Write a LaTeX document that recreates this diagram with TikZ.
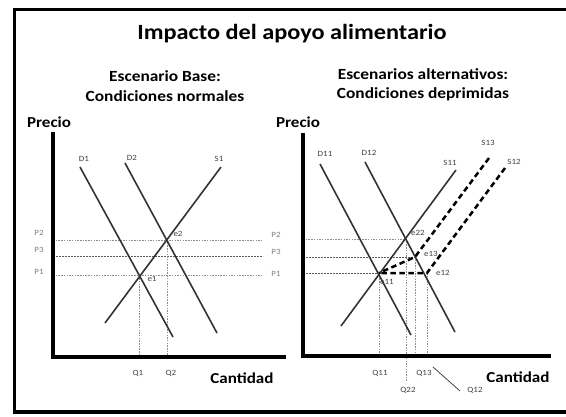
\documentclass[tikz,border=0pt]{standalone}
\usepackage{fontspec}
\setmainfont[FakeStretch=1.12]{Carlito}
\begin{document}
\begin{tikzpicture}[x=1pt,y=-1pt,
  frame/.style={line width=3.5pt,black},
  axis/.style={line width=3.6pt,black},
  curve/.style={line width=1.6pt,black!80},
  shifted/.style={line width=2.5pt,black,dash pattern=on 5.5pt off 3.5pt},
  guide/.style={line width=0.9pt,black!45,dash pattern=on 1.5pt off 1.2pt},
  guidedark/.style={line width=1pt,black!65,dash pattern=on 2pt off 1pt},
  ttl/.style={font=\bfseries\fontsize{21.7}{24}\selectfont},
  sub/.style={font=\bfseries\fontsize{15.5}{19.5}\selectfont,align=center},
  axlab/.style={font=\bfseries\fontsize{15.2}{18}\selectfont},
  lab/.style={font=\fontsize{8}{9}\selectfont,text=black!75,inner sep=0.5pt},
  plab/.style={font=\fontsize{8}{9}\selectfont,text=black!50,inner sep=0.5pt},
]
\useasboundingbox (0,0) rectangle (566,416);
\fill[white] (0,0) rectangle (566,416);
% frame
\coordinate (fTR) at (566,9.5);
\coordinate (fTL) at (14.5,9.5);
\coordinate (fBL) at (14.5,412);
\coordinate (fBR) at (566,412);
\draw[frame] (fTR) -- (fTL) -- (fBL) -- (fBR);

% titles
\node[ttl] (title) at (292,34) {Impacto del apoyo alimentario};
\node[sub] (subL) at (165,86) {Escenario Base:\\Condiciones normales};
\node[sub] (subR) at (423,85) {Escenarios alternativos:\\Condiciones deprimidas};
\node[axlab] (precioL) at (49,122) {Precio};
\node[axlab] (precioR) at (298,122) {Precio};
\node[axlab] (cantL) at (242,378) {Cantidad};
\node[axlab] (cantR) at (518,377) {Cantidad};

% ---------- left panel ----------
\coordinate (oL) at (53,357);
\coordinate (yL) at (53,132);
\coordinate (xL) at (286,357);
\coordinate (e1) at (139,275.5);
\coordinate (e2) at (167,240);
\coordinate (p2a) at (53,240);
\coordinate (p2b) at (263,240);
\coordinate (p3a) at (53,256.5);
\coordinate (p3b) at (263,256.5);
\coordinate (p1a) at (53,275);
\coordinate (p1b) at (263,275);
\coordinate (q1) at (139,357);
\coordinate (q2) at (167,357);
\draw[guide] (p2a) -- (p2b);
\draw[guidedark] (p3a) -- (p3b);
\draw[guide] (p1a) -- (p1b);
\draw[guide] (e1) -- (q1);
\draw[guide] (e2) -- (q2);

\coordinate (d1t) at (80,167);
\coordinate (d1b) at (173,337);
\coordinate (d2t) at (125,163);
\coordinate (d2b) at (217,333);
\coordinate (s1t) at (221,167);
\coordinate (s1b) at (105,323);
\draw[curve] (d1t) -- (d1b);
\draw[curve] (d2t) -- (d2b);
\draw[curve] (s1t) -- (s1b);
\draw[axis] (yL) -- (oL) -- (xL);

\node[lab] (lD1) at (84,159) {D1};
\node[lab] (lD2) at (132,158) {D2};
\node[lab] (lS1) at (219,159) {S1};
\node[lab] (le1) at (152,279) {e1};
\node[lab] (le2) at (178,234) {e2};
\node[plab] (lP2a) at (39,233) {P2};
\node[plab] (lP3a) at (39,250) {P3};
\node[plab] (lP1a) at (39,272) {P1};
\node[plab] (lP2b) at (276,235) {P2};
\node[plab] (lP3b) at (276,252) {P3};
\node[plab] (lP1b) at (276,274) {P1};
\node[lab] (lQ1) at (138,373) {Q1};
\node[lab] (lQ2) at (171,373) {Q2};

% ---------- right panel ----------
\coordinate (oR) at (303,356);
\coordinate (yR) at (303,133);
\coordinate (xR) at (551,356);
\coordinate (e11) at (379,273);
\coordinate (e22) at (406,239);
\coordinate (e13) at (415,257);
\coordinate (e12) at (427,273);
\coordinate (r2a) at (303,239);
\coordinate (r3a) at (303,257);
\coordinate (r1a) at (303,273);
\coordinate (q11) at (379,356);
\coordinate (q22) at (406,382);
\coordinate (q13) at (415,356);
\coordinate (q12) at (427,356);
\draw[guide] (r2a) -- (e22);
\draw[guidedark] (r3a) -- (e13);
\draw[guidedark] (r1a) -- (e11);
\draw[guide] (e11) -- (q11);
\draw[guide] (e22) -- (q22);
\draw[guide] (e13) -- (q13);
\draw[guide] (e12) -- (q12);

\coordinate (d11t) at (320,164);
\coordinate (d11b) at (411,335);
\coordinate (d12t) at (365,162);
\coordinate (d12b) at (455,332);
\coordinate (s11t) at (456,170);
\coordinate (s11b) at (341,326);
\coordinate (s13t) at (489,158);
\coordinate (s12t) at (505,168);
\draw[curve] (d11t) -- (d11b);
\draw[curve] (d12t) -- (d12b);
\draw[curve] (s11t) -- (s11b);
\draw[shifted] (s13t) -- (e13) -- (e11);
\draw[shifted] (s12t) -- (e12) -- (e11);
\draw[axis] (yR) -- (oR) -- (xR);

\node[lab] (lD11) at (325,154) {D11};
\node[lab] (lD12) at (369,153) {D12};
\node[lab] (lS11) at (450,163) {S11};
\node[lab] (lS13) at (488,143) {S13};
\node[lab] (lS12) at (514,162) {S12};
\node[lab] (le22) at (418,233) {e22};
\node[lab] (le13) at (431,254) {e13};
\node[lab] (le12) at (443,273) {e12};
\node[lab] (le11) at (387,282) {e11};
\node[lab] (lQ11) at (380,373) {Q11};
\node[lab] (lQ13) at (424,373) {Q13};
\node[lab] (lQ22) at (408,390) {Q22};
\node[lab] (lQ12) at (475,390) {Q12};
\coordinate (lead1) at (433,367);
\coordinate (lead2) at (460,391);
\draw[line width=0.8pt,black!70] (lead1) -- (lead2);
\end{tikzpicture}
\end{document}
